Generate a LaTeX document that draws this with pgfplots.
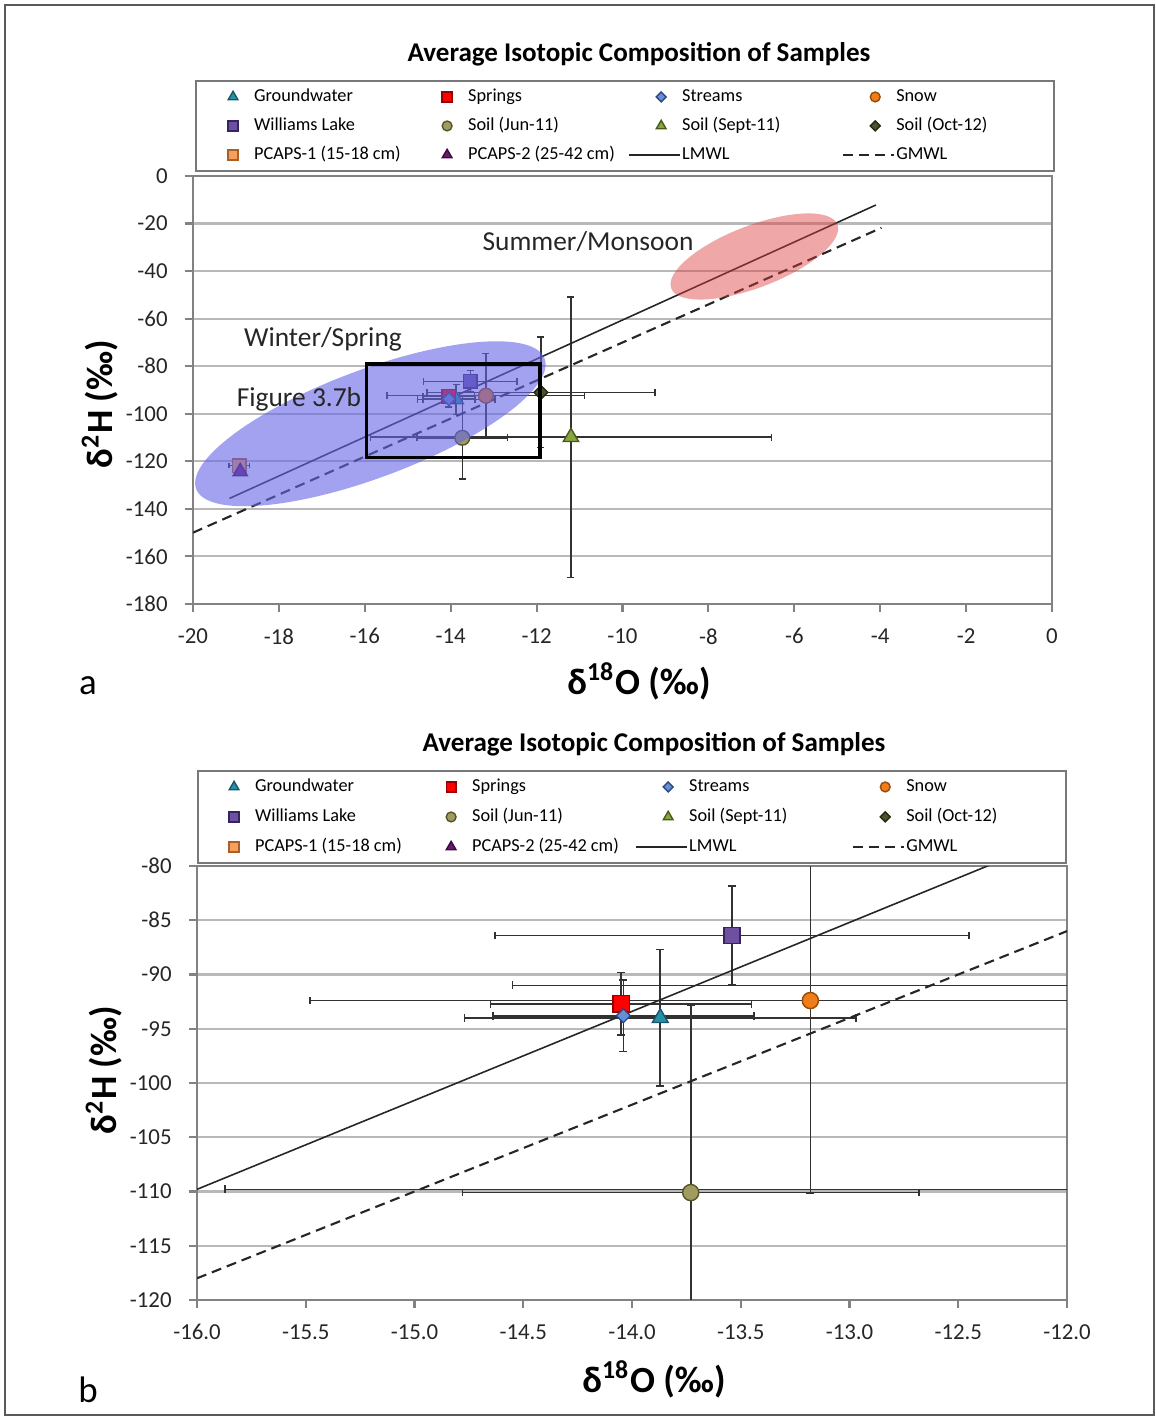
\documentclass[border=0pt]{standalone}
\usepackage{fontspec}
\setmainfont{Carlito}
\usepackage{pgfplots}
\usepackage{pgfplotstable}
\pgfplotsset{compat=1.18}

% marker colours (fill / edge)
\definecolor{gwf}{RGB}{40,145,170}   \definecolor{gwd}{RGB}{25,85,105}
\definecolor{sprf}{RGB}{255,0,0}     \definecolor{sprd}{RGB}{150,0,0}
\definecolor{stmf}{RGB}{100,145,210} \definecolor{stmd}{RGB}{45,70,130}
\definecolor{snwf}{RGB}{240,125,25}  \definecolor{snwd}{RGB}{150,75,10}
\definecolor{wilf}{RGB}{110,80,160}  \definecolor{wild}{RGB}{55,35,95}
\definecolor{junf}{RGB}{160,155,95}  \definecolor{jund}{RGB}{85,85,45}
\definecolor{sepf}{RGB}{135,165,65}  \definecolor{sepd}{RGB}{70,90,25}
\definecolor{octf}{RGB}{75,85,45}    \definecolor{octd}{RGB}{35,40,15}
\definecolor{pcaf}{RGB}{245,160,95}  \definecolor{pcad}{RGB}{170,95,40}
\definecolor{pcbf}{RGB}{105,25,110}  \definecolor{pcbd}{RGB}{60,10,65}
\definecolor{ebc}{RGB}{50,50,50}
\definecolor{axc}{RGB}{130,130,130}
\definecolor{grc}{RGB}{185,185,185}
\definecolor{lgc}{RGB}{120,120,120}
\definecolor{winter}{RGB}{100,100,230}
\definecolor{summer}{RGB}{220,60,60}

% one small table per series: x = d18O, y = d2H, ex/ey = error
\pgfplotstableread{
x y ex ey
-13.87 -94.0 0.90 6.3
}\gwdata
\pgfplotstableread{
x y ex ey
-14.05 -92.7 0.60 2.9
}\sprdata
\pgfplotstableread{
x y ex ey
-14.04 -93.8 0.60 3.3
}\stmdata
\pgfplotstableread{
x y ex ey
-13.18 -92.4 2.30 17.8
}\snwdata
\pgfplotstableread{
x y ex ey
-13.54 -86.4 1.09 4.55
}\wildata
\pgfplotstableread{
x y ex ey
-13.73 -110.1 1.05 17.3
}\jundata
\pgfplotstableread{
x y ex ey
-11.20 -109.8 4.67 59.0
}\sepdata
\pgfplotstableread{
x y ex ey
-11.90 -91.0 2.65 23.2
}\octdata
\pgfplotstableread{
x y ex ey
-18.92 -121.8 0.24 1.5
}\pcadata
\pgfplotstableread{
x y ex ey
-18.90 -124.3 0.10 0.6
}\pcbdata

\newcommand{\lt}[2]{\makebox[#1][l]{#2}}

\pgfplotsset{
  errs/.style={/pgfplots/error bars/.cd, x dir=both, x explicit, y dir=both, y explicit,
    error bar style={line width=0.45pt, draw=ebc},
    error mark options={rotate=90, line width=0.45pt, draw=ebc, mark size=#1}, /pgfplots/.cd},
  mlimg/.style={legend image code/.code={%
    \path[draw=none, fill=none] (0cm,-0.04cm) rectangle (0.28cm,0.04cm);
    \draw[##1, mark size=#1] plot coordinates {(0.14cm,0cm)};}},
  llimg/.style={legend image code/.code={%
    \path[draw=none, fill=none] (0cm,-0.04cm) rectangle (0.28cm,0.04cm);
    \draw[##1, overlay] (-0.18cm,0cm) -- (0.33cm,0cm);}},
  gw/.style={only marks, mark=triangle*, mark size=#1, mark options={fill=gwf, draw=gwd, line width=0.4pt}, mlimg=1.6pt},
  spr/.style={only marks, mark=square*, mark size=#1, mark options={fill=sprf, draw=sprd, line width=0.4pt}, mlimg=1.4pt},
  stm/.style={only marks, mark=square*, mark size=#1, mark options={fill=stmf, draw=stmd, line width=0.4pt, rotate=45}, mlimg=1.0pt},
  snw/.style={only marks, mark=*, mark size=#1, mark options={fill=snwf, draw=snwd, line width=0.4pt}, mlimg=1.4pt},
  wil/.style={only marks, mark=square*, mark size=#1, mark options={fill=wilf, draw=wild, line width=0.4pt}, mlimg=1.4pt},
  jun/.style={only marks, mark=*, mark size=#1, mark options={fill=junf, draw=jund, line width=0.4pt}, mlimg=1.4pt},
  sep/.style={only marks, mark=triangle*, mark size=#1, mark options={fill=sepf, draw=sepd, line width=0.4pt}, mlimg=1.6pt},
  oct/.style={only marks, mark=square*, mark size=#1, mark options={fill=octf, draw=octd, line width=0.4pt, rotate=45}, mlimg=1.0pt},
  pca/.style={only marks, mark=square*, mark size=#1, mark options={fill=pcaf, draw=pcad, line width=0.4pt}, mlimg=1.4pt},
  pcb/.style={only marks, mark=triangle*, mark size=#1, mark options={fill=pcbf, draw=pcbd, line width=0.4pt}, mlimg=1.6pt},
  lmwl/.style={black!85, line width=0.45pt, mark=none, llimg},
  gmwl/.style={black!85, line width=0.6pt, mark=none, dash pattern=on 0.1cm off 0.06cm, llimg},
  panel/.style={scale only axis, clip=true,
    axis line style={draw=axc, line width=0.6pt},
    ymajorgrids, grid style={draw=grc, line width=0.6pt},
    xtick pos=bottom, ytick pos=left, tick align=outside,
    major tick length=0.08cm, tick style={draw=axc, line width=0.6pt},
    tick label style={font=\fontsize{6.5}{7}\selectfont, text=black!85},
    xticklabel style={yshift=-0.04cm}, yticklabel style={xshift=-0.05cm},
    legend columns=4, legend cell align=left},
}

\begin{document}
\begin{tikzpicture}
\path[use as bounding box] (0,0) rectangle (11.56,14.2);

% ---------------- panel a ----------------
\begin{axis}[panel,
  at={(1.93cm,8.16cm)}, anchor=south west, width=8.59cm, height=4.28cm,
  xmin=-20, xmax=0, ymin=-180, ymax=0,
  xtick={-20,-18,-16,-14,-12,-10,-8,-6,-4,-2,0},
  xticklabels={-20,-18,-16,-14,-12,-10,-8,-6,-4,-2,0},
  ytick={-180,-160,-140,-120,-100,-80,-60,-40,-20,0},
  yticklabels={-180,-160,-140,-120,-100,-80,-60,-40,-20,0},
  legend style={at={(0,1)}, anchor=south west, xshift=0.02cm, yshift=0.04cm,
    draw=lgc, line width=0.6pt, inner xsep=0.23cm, inner ysep=0.03cm,
    font=\fontsize{5.2}{6}\selectfont, row sep=0.03cm,
    nodes={inner xsep=2pt, inner ysep=0pt, text height=0.18cm, text depth=0.08cm},
    cells={anchor=west}},
]
\addplot[gw=2.3pt, errs=1pt] table[x=x,y=y,x error=ex,y error=ey] {\gwdata};
\addlegendentry{\lt{1.72cm}{Groundwater}}
\addplot[spr=1.9pt, errs=1pt] table[x=x,y=y,x error=ex,y error=ey] {\sprdata};
\addlegendentry{\lt{1.72cm}{Springs}}
\addplot[stm=1.3pt, errs=1pt] table[x=x,y=y,x error=ex,y error=ey] {\stmdata};
\addlegendentry{\lt{1.72cm}{Streams}}
\addplot[snw=2.1pt, errs=1pt] table[x=x,y=y,x error=ex,y error=ey] {\snwdata};
\addlegendentry{\lt{1.28cm}{Snow}}
\addplot[wil=1.9pt, errs=1pt] table[x=x,y=y,x error=ex,y error=ey] {\wildata};
\addlegendentry{\lt{1.72cm}{Williams Lake}}
\addplot[jun=2.1pt, errs=1pt] table[x=x,y=y,x error=ex,y error=ey] {\jundata};
\addlegendentry{\lt{1.72cm}{Soil (Jun-11)}}
\addplot[sep=2.5pt, errs=1pt] table[x=x,y=y,x error=ex,y error=ey] {\sepdata};
\addlegendentry{\lt{1.72cm}{Soil (Sept-11)}}
\addplot[oct=1.4pt, errs=1pt] table[x=x,y=y,x error=ex,y error=ey] {\octdata};
\addlegendentry{\lt{1.28cm}{Soil (Oct-12)}}
\addplot[pca=1.9pt, errs=0.8pt] table[x=x,y=y,x error=ex,y error=ey] {\pcadata};
\addlegendentry{\lt{1.72cm}{PCAPS-1 (15-18 cm)}}
\addplot[pcb=2.3pt, errs=0.8pt] table[x=x,y=y,x error=ex,y error=ey] {\pcbdata};
\addlegendentry{\lt{1.72cm}{PCAPS-2 (25-42 cm)}}
\addplot[lmwl] coordinates {(-19.15,-135.6) (-4.10,-12.2)};
\addlegendentry{\lt{1.72cm}{LMWL}}
\addplot[gmwl] coordinates {(-20,-150) (-3.97,-21.8)};
\addlegendentry{\lt{1.28cm}{GMWL}}
\coordinate (wc) at (axis cs:-15.87,-104.2);
\coordinate (sc) at (axis cs:-6.93,-33.85);
\coordinate (b1) at (axis cs:-15.96,-78.9);
\coordinate (b2) at (axis cs:-11.92,-118.4);
\end{axis}

\fill[winter, fill opacity=0.6, rotate around={20.5:(wc)}] (wc) ellipse [x radius=1.86cm, y radius=0.54cm];
\fill[summer, fill opacity=0.45, rotate around={21:(sc)}] (sc) ellipse [x radius=0.89cm, y radius=0.31cm];
\draw[black, line width=1.1pt] (b1) rectangle (b2);
\node[font=\fontsize{7.8}{9}\selectfont, text=black!85] at (5.88,11.78) {Summer/Monsoon};
\node[font=\fontsize{7.8}{9}\selectfont, text=black!85] at (3.23,10.81) {Winter/Spring};
\node[font=\fontsize{7.8}{9}\selectfont, text=black!85] at (2.99,10.21) {Figure 3.7b};

\node[font=\bfseries\fontsize{7.7}{9}\selectfont] at (6.39,13.66) {Average Isotopic Composition of Samples};
\node[font=\bfseries\fontsize{10.5}{12}\selectfont] at (6.39,7.39) {δ\textsuperscript{18}O (‰)};
\node[font=\bfseries\fontsize{10.5}{12}\selectfont, rotate=90] at (1.00,10.16) {δ\textsuperscript{2}H (‰)};
\node[font=\fontsize{10.5}{12}\selectfont] at (0.88,7.34) {a};

% ---------------- panel b ----------------
\begin{axis}[panel,
  at={(1.97cm,1.20cm)}, anchor=south west, width=8.70cm, height=4.34cm,
  xmin=-16, xmax=-12, ymin=-120, ymax=-80,
  xtick={-16,-15.5,-15,-14.5,-14,-13.5,-13,-12.5,-12},
  xticklabels={-16.0,-15.5,-15.0,-14.5,-14.0,-13.5,-13.0,-12.5,-12.0},
  ytick={-120,-115,-110,-105,-100,-95,-90,-85,-80},
  yticklabels={-120,-115,-110,-105,-100,-95,-90,-85,-80},
  legend style={at={(0,1)}, anchor=south west, xshift=0cm, yshift=0.02cm,
    draw=lgc, line width=0.6pt, inner xsep=0.22cm, inner ysep=0.03cm,
    font=\fontsize{5.2}{6}\selectfont, row sep=0.04cm,
    nodes={inner xsep=2pt, inner ysep=0pt, text height=0.18cm, text depth=0.08cm},
    cells={anchor=west}},
]
\addplot[gw=2.6pt, errs=1.1pt] table[x=x,y=y,x error=ex,y error=ey] {\gwdata};
\addlegendentry{\lt{1.75cm}{Groundwater}}
\addplot[spr=2.3pt, errs=1.1pt] table[x=x,y=y,x error=ex,y error=ey] {\sprdata};
\addlegendentry{\lt{1.75cm}{Springs}}
\addplot[stm=1.4pt, errs=1.1pt] table[x=x,y=y,x error=ex,y error=ey] {\stmdata};
\addlegendentry{\lt{1.75cm}{Streams}}
\addplot[snw=2.3pt, errs=1.1pt] table[x=x,y=y,x error=ex,y error=ey] {\snwdata};
\addlegendentry{\lt{1.31cm}{Snow}}
\addplot[wil=2.3pt, errs=1.1pt] table[x=x,y=y,x error=ex,y error=ey] {\wildata};
\addlegendentry{\lt{1.75cm}{Williams Lake}}
\addplot[jun=2.3pt, errs=1.1pt] table[x=x,y=y,x error=ex,y error=ey] {\jundata};
\addlegendentry{\lt{1.75cm}{Soil (Jun-11)}}
\addplot[sep=2.6pt, errs=1.1pt] table[x=x,y=y,x error=ex,y error=ey] {\sepdata};
\addlegendentry{\lt{1.75cm}{Soil (Sept-11)}}
\addplot[oct=1.4pt, errs=1.1pt] table[x=x,y=y,x error=ex,y error=ey] {\octdata};
\addlegendentry{\lt{1.31cm}{Soil (Oct-12)}}
\addplot[pca=2.3pt, errs=1.1pt] table[x=x,y=y,x error=ex,y error=ey] {\pcadata};
\addlegendentry{\lt{1.75cm}{PCAPS-1 (15-18 cm)}}
\addplot[pcb=2.6pt, errs=1.1pt] table[x=x,y=y,x error=ex,y error=ey] {\pcbdata};
\addlegendentry{\lt{1.75cm}{PCAPS-2 (25-42 cm)}}
\addplot[lmwl] coordinates {(-16,-109.8) (-12,-77.0)};
\addlegendentry{\lt{1.75cm}{LMWL}}
\addplot[gmwl] coordinates {(-16,-118) (-12,-86)};
\addlegendentry{\lt{1.31cm}{GMWL}}
\end{axis}

\node[font=\bfseries\fontsize{7.7}{9}\selectfont] at (6.54,6.76) {Average Isotopic Composition of Samples};
\node[font=\bfseries\fontsize{10.5}{12}\selectfont] at (6.54,0.41) {δ\textsuperscript{18}O (‰)};
\node[font=\bfseries\fontsize{10.5}{12}\selectfont, rotate=90] at (1.04,3.50) {δ\textsuperscript{2}H (‰)};
\node[font=\fontsize{10.5}{12}\selectfont] at (0.88,0.30) {b};

\draw[black!65, line width=0.6pt] (0.05,0.05) rectangle (11.54,14.15);
\end{tikzpicture}
\end{document}
